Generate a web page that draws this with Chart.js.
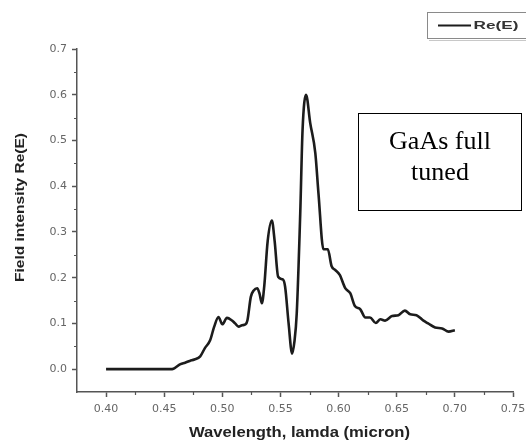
<!DOCTYPE html>
<html>
<head>
<meta charset="utf-8">
<script src="https://cdn.jsdelivr.net/npm/chart.js@4/dist/chart.umd.min.js"></script>
<style>
  html, body { margin: 0; padding: 0; background: #fff; }
  canvas { display: block; }
</style>
</head>
<body>
<canvas id="c" width="526" height="441"></canvas>
<script>
// Real part of the field versus wavelength (micron)
const wavelength = [
  0.400, 0.420, 0.440, 0.455, 0.458, 0.464, 0.468, 0.472, 0.476, 0.481,
  0.485, 0.4895, 0.493, 0.4967, 0.500, 0.504, 0.508, 0.511, 0.514, 0.517,
  0.520, 0.5216, 0.5245, 0.527, 0.530, 0.532, 0.534, 0.536, 0.539, 0.5426,
  0.545, 0.548, 0.552, 0.554, 0.557, 0.560, 0.562, 0.564, 0.567, 0.569,
  0.572, 0.5756, 0.580, 0.5827, 0.587, 0.5907, 0.594, 0.597, 0.601, 0.6057,
  0.610, 0.614, 0.6186, 0.623, 0.627, 0.632, 0.636, 0.640, 0.646, 0.6515,
  0.657, 0.6616, 0.667, 0.673, 0.677, 0.683, 0.689, 0.6946, 0.700
];
const reE = [
  0.000, 0.000, 0.000, 0.000, 0.001, 0.011, 0.014, 0.018, 0.021, 0.028,
  0.046, 0.063, 0.093, 0.114, 0.098, 0.112, 0.107, 0.100, 0.093, 0.096,
  0.098, 0.107, 0.158, 0.172, 0.177, 0.165, 0.144, 0.180, 0.280, 0.325,
  0.280, 0.202, 0.196, 0.180, 0.100, 0.034, 0.060, 0.122, 0.340, 0.523,
  0.600, 0.538, 0.472, 0.384, 0.262, 0.262, 0.225, 0.217, 0.206, 0.177,
  0.166, 0.138, 0.131, 0.113, 0.113, 0.101, 0.109, 0.106, 0.116, 0.118,
  0.128, 0.120, 0.118, 0.106, 0.100, 0.091, 0.089, 0.082, 0.085
];

// Axis ticks
const xTicks = [0.40, 0.45, 0.50, 0.55, 0.60, 0.65, 0.70, 0.75];
const xMinorTicks = [0.425, 0.475, 0.525, 0.575, 0.625, 0.675, 0.725];
const yTicks = [0.0, 0.1, 0.2, 0.3, 0.4, 0.5, 0.6, 0.7];
const yMinorTicks = [0.05, 0.15, 0.25, 0.35, 0.45, 0.55, 0.65];

// Texts
const seriesLabel = 'Re(E)';
const xTitle = 'Wavelength, lamda (micron)';
const yTitle = 'Field intensity Re(E)';
const noteLines = ['GaAs full', 'tuned'];

const AXIS_COLOR = '#555';
const LINE_COLOR = '#1c1c1c';

// Draws text centred on (cx, cy), stretched horizontally to a given width
function fitText(ctx, text, cx, cy, font, width, angle, color) {
  ctx.save();
  ctx.font = font;
  ctx.fillStyle = color;
  const w = ctx.measureText(text).width;
  ctx.translate(cx, cy);
  if (angle) ctx.rotate(angle);
  ctx.scale(width / w, 1);
  ctx.textAlign = 'center';
  ctx.textBaseline = 'middle';
  ctx.fillText(text, 0, 0);
  ctx.restore();
}

const decorations = {
  id: 'decorations',
  afterDraw(chart) {
    const ctx = chart.ctx;
    const xs = chart.scales.x, ys = chart.scales.y;
    const area = chart.chartArea;

    // minor ticks
    ctx.save();
    ctx.strokeStyle = AXIS_COLOR;
    ctx.lineWidth = 1.2;
    ctx.beginPath();
    xMinorTicks.forEach(v => {
      const px = Math.round(xs.getPixelForValue(v)) + 0.5;
      ctx.moveTo(px, area.bottom);
      ctx.lineTo(px, area.bottom + 3);
    });
    yMinorTicks.forEach(v => {
      const py = Math.round(ys.getPixelForValue(v)) + 0.5;
      ctx.moveTo(area.left - 3, py);
      ctx.lineTo(area.left, py);
    });
    ctx.stroke();
    ctx.restore();

    // axis titles
    fitText(ctx, xTitle, 299.5, 433, 'bold 14px "Liberation Sans", Arial, sans-serif', 221, 0, '#222');
    fitText(ctx, yTitle, 21, 207.5, 'bold 12px "Liberation Sans", Arial, sans-serif', 149, -Math.PI / 2, '#222');

    // legend
    ctx.save();
    ctx.strokeStyle = '#c8c8c8';
    ctx.lineWidth = 1;
    ctx.beginPath();
    ctx.moveTo(429, 40.5); ctx.lineTo(530, 40.5);
    ctx.stroke();
    ctx.strokeStyle = '#8a8a8a';
    ctx.strokeRect(427.5, 12.5, 110, 26);
    ctx.strokeStyle = LINE_COLOR;
    ctx.lineWidth = 2;
    ctx.beginPath();
    ctx.moveTo(438, 25.5); ctx.lineTo(471, 25.5);
    ctx.stroke();
    ctx.restore();
    fitText(ctx, seriesLabel, 496, 25.5, 'bold 11px "Liberation Sans", Arial, sans-serif', 45, 0, '#333');

    // note box
    ctx.save();
    ctx.strokeStyle = '#000';
    ctx.lineWidth = 1;
    ctx.strokeRect(358.5, 113.5, 163, 97);
    ctx.fillStyle = '#000';
    ctx.font = '26px "Liberation Serif", "Times New Roman", serif';
    ctx.textAlign = 'center';
    ctx.textBaseline = 'alphabetic';
    ctx.fillText(noteLines[0], 440, 149);
    ctx.fillText(noteLines[1], 440, 180);
    ctx.restore();
  }
};

const tickFont = { family: '"DejaVu Sans", sans-serif', size: 11 };

new Chart(document.getElementById('c'), {
  type: 'line',
  data: {
    datasets: [{
      label: seriesLabel,
      data: wavelength.map((x, i) => ({ x, y: reE[i] })),
      borderColor: LINE_COLOR,
      borderWidth: 2.6,
      pointRadius: 0,
      fill: false,
      cubicInterpolationMode: 'monotone'
    }]
  },
  options: {
    responsive: false,
    animation: false,
    layout: { padding: { left: 0, top: 49, right: 13, bottom: 0 } },
    plugins: { legend: { display: false }, tooltip: { enabled: false } },
    scales: {
      x: {
        type: 'linear',
        min: 0.375,
        max: 0.75,
        afterBuildTicks: s => { s.ticks = xTicks.map(v => ({ value: v })); },
        afterFit: s => { s.height = 49; s.paddingLeft = 0; s.paddingRight = 0; },
        ticks: {
          callback: v => Number(v).toFixed(2),
          font: tickFont,
          color: '#666',
          padding: 6,
          maxRotation: 0,
          autoSkip: false
        },
        grid: {
          drawOnChartArea: false,
          drawTicks: true,
          tickLength: 5,
          tickColor: AXIS_COLOR,
          tickWidth: 1.5
        },
        border: { color: AXIS_COLOR, width: 1.5 }
      },
      y: {
        type: 'linear',
        min: -0.05,
        max: 0.7,
        afterBuildTicks: s => { s.ticks = yTicks.map(v => ({ value: v })); },
        afterFit: s => { s.width = 77; s.paddingTop = 0; s.paddingBottom = 0; },
        ticks: {
          callback: v => Number(v).toFixed(1),
          font: tickFont,
          color: '#666',
          padding: 5,
          autoSkip: false
        },
        grid: {
          drawOnChartArea: false,
          drawTicks: true,
          tickLength: 5,
          tickColor: AXIS_COLOR,
          tickWidth: 1.5
        },
        border: { color: AXIS_COLOR, width: 1.5 }
      }
    }
  },
  plugins: [decorations]
});
</script>
</body>
</html>
